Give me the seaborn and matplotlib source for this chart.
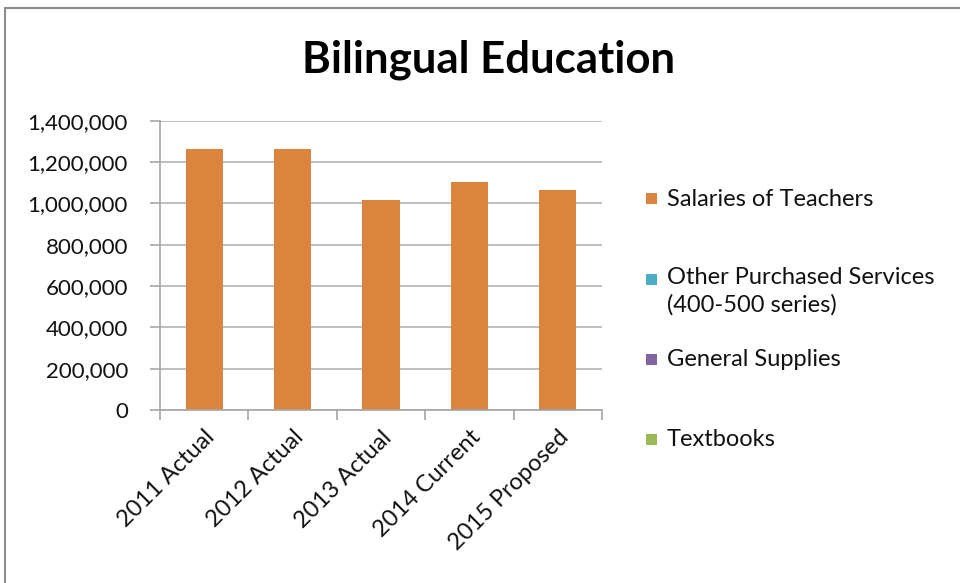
import matplotlib
matplotlib.use("Agg")
import matplotlib.pyplot as plt
from matplotlib.patches import Rectangle
from matplotlib.ticker import FuncFormatter, FixedLocator
import numpy as np
import pandas as pd
import seaborn as sns

# Budget lines per fiscal year (dollars)
years = ["2011 Actual", "2012 Actual", "2013 Actual", "2014 Current", "2015 Proposed"]
salaries_of_teachers = [1265000, 1265000, 1017000, 1098000, 1059000]
other_purchased_services = [0, 0, 0, 0, 0]
general_supplies = [0, 0, 0, 6000, 6000]
textbooks = [0, 0, 0, 0, 0]

series_names = ["Salaries of Teachers", "Other Purchased Services\n(400-500 series)",
                "General Supplies", "Textbooks"]
series_colors = ["#DB843D", "#4BACC6", "#8064A2", "#9BBB59"]

sns.set_theme(style="white")
plt.rcParams["font.family"] = ["Lato", "DejaVu Sans"]

df = pd.DataFrame({
    "year": years,
    "Textbooks": textbooks,
    "General Supplies": general_supplies,
    "Other Purchased Services": other_purchased_services,
    "Salaries of Teachers": salaries_of_teachers,
})
# stacked from the bottom: Textbooks, General Supplies, Other Purchased Services, Salaries
stack_order = ["Textbooks", "General Supplies", "Other Purchased Services", "Salaries of Teachers"]
stack_colors = ["#9BBB59", "#8064A2", "#4BACC6", "#DB843D"]
cum = df[stack_order].cumsum(axis=1)

fig = plt.figure(figsize=(9.6, 5.83), dpi=100)
ax = fig.add_axes([160 / 960, 1 - 410 / 583, (602 - 160) / 960, (410 - 120.7) / 583])

# draw cumulative totals from the top series down so each layer overlays the previous
for col, color in zip(reversed(stack_order), reversed(stack_colors)):
    sns.barplot(x=df["year"], y=cum[col], color=color, width=0.42, ax=ax,
                saturation=1, edgecolor="none", linewidth=0)

ax.set_ylim(0, 1400000)
ax.set_xlim(-0.5, 4.5)
ax.set_yticks(np.arange(0, 1400001, 200000))
ax.yaxis.set_major_formatter(FuncFormatter(lambda v, p: f"{int(v):,}"))
ax.set_xlabel("")
ax.set_ylabel("")
ax.yaxis.grid(True, color="#B3B3B3", linewidth=1.2)
ax.set_axisbelow(True)

for s in ["top", "right"]:
    ax.spines[s].set_visible(False)
for s in ["left", "bottom"]:
    ax.spines[s].set_color("#A6A6A6")
    ax.spines[s].set_linewidth(1.2)

ax.tick_params(axis="y", which="major", left=True, length=7, width=1.2, color="#A6A6A6",
               labelsize=16, labelcolor="#111111", pad=16)
ax.tick_params(axis="x", which="major", bottom=False, length=0, labelsize=17,
               labelcolor="#111111", pad=12)
ax.xaxis.set_minor_locator(FixedLocator(np.arange(-0.5, 4.6, 1.0)))
ax.tick_params(axis="x", which="minor", bottom=True, length=7, width=1.2, color="#A6A6A6")
for lbl in ax.get_xticklabels():
    lbl.set_rotation(45)
    lbl.set_ha("right")
    lbl.set_rotation_mode("anchor")

fig.text(489 / 960, 1 - 73 / 583, "Bilingual Education", ha="center", va="baseline",
         fontsize=31.5, fontweight="bold", color="#000000")

# legend entries to the right of the plot area
legend_y = [199, 280, 360, 440]
for name, color, y in zip(series_names, series_colors, legend_y):
    fig.patches.append(Rectangle((646 / 960, 1 - (y + 5) / 583), 11 / 960, 11 / 583,
                                 transform=fig.transFigure, facecolor=color,
                                 edgecolor="none"))
    if "\n" in name:
        fig.text(667 / 960, 1 - (y - 13) / 583, name, ha="left", va="top",
                 fontsize=17, color="#111111", linespacing=1.35)
    else:
        fig.text(667 / 960, 1 - y / 583, name, ha="left", va="center",
                 fontsize=17, color="#111111")

# chart frame
fig.patches.append(Rectangle((5 / 960, -0.1), 1.2, 1 - 8 / 583 + 0.1,
                             transform=fig.transFigure, facecolor="none",
                             edgecolor="#8C8C8C", linewidth=1.5))

fig.savefig("out.png", dpi=100)
